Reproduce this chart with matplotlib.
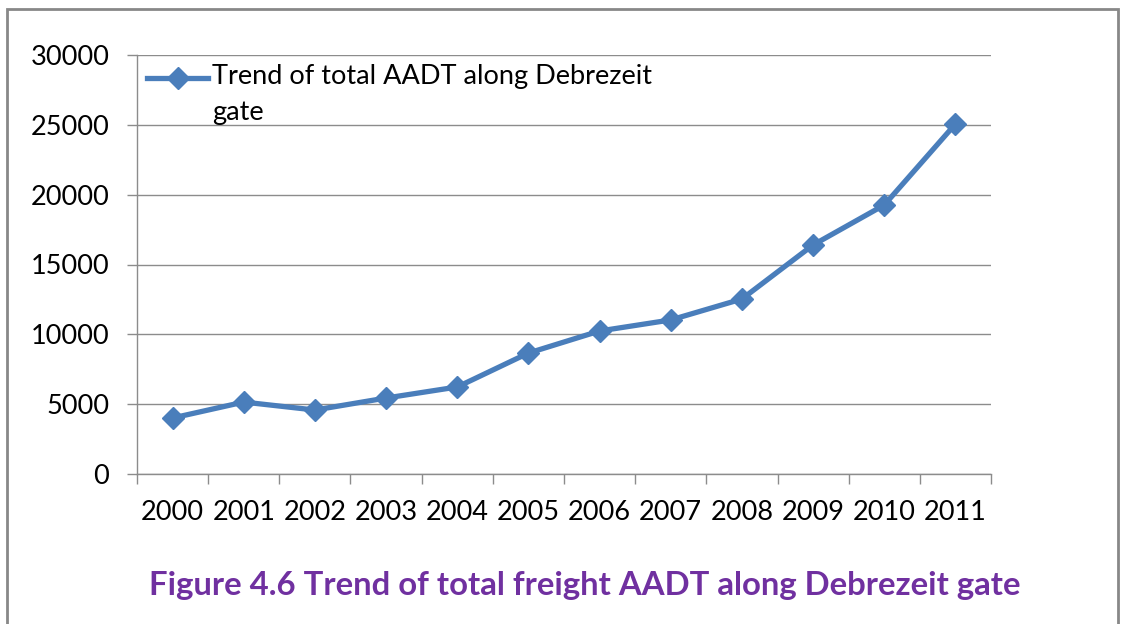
import numpy as np
import matplotlib.pyplot as plt
from matplotlib.patches import Rectangle
from matplotlib.ticker import MultipleLocator

# datos
anios = ['2000', '2001', '2002', '2003', '2004', '2005',
         '2006', '2007', '2008', '2009', '2010', '2011']
aadt_total = [4010, 5150, 4580, 5440, 6230, 8660,
              10240, 11030, 12530, 16400, 19260, 25060]

etiqueta = 'Trend of total AADT along Debrezeit\ngate'
titulo = 'Figure 4.6 Trend of total freight AADT along Debrezeit gate'

azul = '#4A7EBB'
gris = '#8C8C8C'

plt.rcParams['font.family'] = ['Lato', 'DejaVu Sans']

fig = plt.figure(figsize=(11.32, 6.24), dpi=100)
ax = fig.add_axes([137 / 1132, 150 / 624, 854 / 1132, 419 / 624])

x = np.arange(len(anios))
ax.plot(x, aadt_total, color=azul, linewidth=3.8, marker='D',
        markersize=11, markeredgewidth=1, markeredgecolor=azul, zorder=3)

ax.set_xlim(-0.5, len(anios) - 0.5)
ax.set_ylim(0, 30000)
ax.yaxis.set_major_locator(MultipleLocator(5000))
ax.grid(axis='y', color=gris, linewidth=1)
ax.set_axisbelow(True)

ax.set_xticks(x)
ax.set_xticklabels(anios)
ax.set_xticks(np.arange(-0.5, len(anios), 1), minor=True)
ax.tick_params(axis='x', which='major', length=0, pad=19, labelsize=19.5)
ax.tick_params(axis='x', which='minor', length=7, color=gris, width=1)
ax.tick_params(axis='y', length=7, color=gris, width=1, pad=13, labelsize=19.5)

for lado in ['top', 'right']:
    ax.spines[lado].set_visible(False)
for lado in ['left', 'bottom']:
    ax.spines[lado].set_color(gris)
    ax.spines[lado].set_linewidth(1)

# leyenda hecha a mano (el texto ocupa dos lineas)
ax.plot([0.012, 0.048, 0.083], [0.945, 0.945, 0.945], transform=ax.transAxes,
        color=azul, linewidth=3.8, marker='D', markersize=11, markevery=[1],
        clip_on=False)
ax.text(0.088, 0.978, etiqueta, transform=ax.transAxes, fontsize=19.5,
        va='top', ha='left', linespacing=1.55)

fig.text(0.517, 0.062, titulo, ha='center', va='center', fontsize=23.7,
         fontweight='bold', color='#7030A0')

borde = Rectangle((7 / 1132, -0.05), 1111 / 1132, 1.05 - 9 / 624,
                  transform=fig.transFigure, fill=False, edgecolor='#888888',
                  linewidth=2)
fig.patches.append(borde)

fig.savefig('out.png', dpi=100)
